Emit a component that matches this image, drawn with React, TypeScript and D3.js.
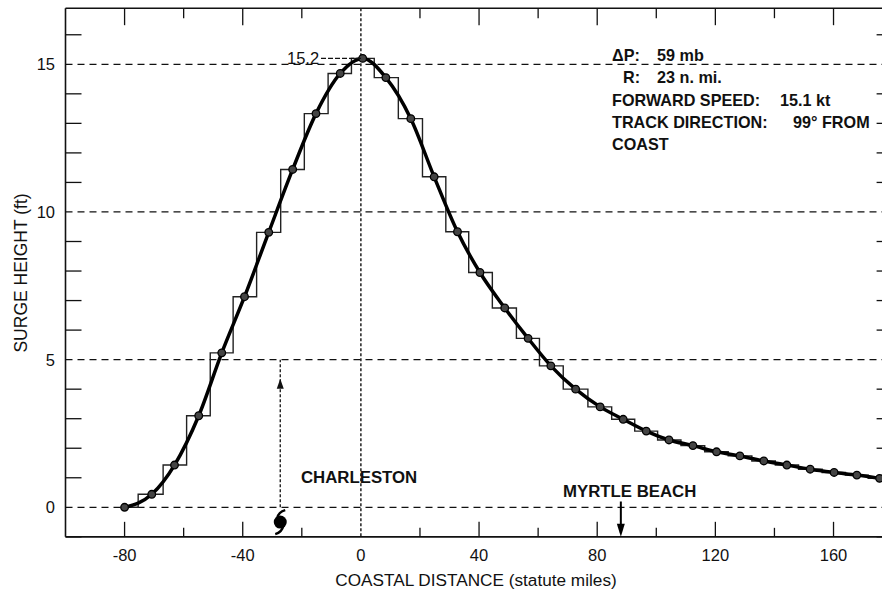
import React from "react";
import * as d3 from "d3";

// Coastal distance (statute miles) of computed grid points
const distances = [-80, -70.8, -63.1, -54.9, -47.1, -39.4, -31.2, -23.1, -15.2, -7, 0.6, 8.45, 16.9, 24.8, 32.7, 40.3, 48.7, 56.6, 64.3, 72.7, 81, 88.8, 96.6, 104.3, 112.4, 120.4, 128.3, 136.4, 144.2, 152.1, 160.2, 167.9, 175.6];
// Surge height (ft) at those points
const surgeHeights = [0, 0.44, 1.43, 3.1, 5.23, 7.13, 9.31, 11.44, 13.33, 14.69, 15.2, 14.55, 13.16, 11.19, 9.33, 7.95, 6.75, 5.72, 4.79, 4.0, 3.4, 2.98, 2.58, 2.28, 2.09, 1.88, 1.74, 1.57, 1.43, 1.29, 1.18, 1.09, 0.98];

const xTickLabels = [-80, -40, 0, 40, 80, 120, 160];
const xTicksAll = [-80, -60, -40, -20, 0, 20, 40, 60, 80, 100, 120, 140, 160, 180];
const yTickLabels = [0, 5, 10, 15];
const yTicksAll = [-1, 0, 1, 2, 3, 4, 5, 6, 7, 8, 9, 10, 11, 12, 13, 14, 15, 16];
const peakValue = 15.2;
const charlestonX = -27.3;
const myrtleBeachX = 88;
const annotations = [
  ["ΔP:", "59 mb"],
  ["R:", "23 n. mi."],
  ["FORWARD SPEED:", "15.1 kt"],
  ["TRACK DIRECTION:", "99° FROM"],
  ["COAST", ""],
];

const FONT = "'Liberation Sans', Arial, Helvetica, sans-serif";

export default function App() {
  const W = 882, H = 592;
  const x = d3.scaleLinear().domain([-100, 180]).range([65.5, 892.6]);
  const y = d3.scaleLinear().domain([0, 15]).range([507.3, 64.3]);
  const yBottom = y(-1);
  const yTop = y(16.9);
  const xLeft = x(-100);
  const xRight = x(180);

  const pts = distances.map((d, i) => [d, surgeHeights[i]] as [number, number]);
  const smooth = d3.line<[number, number]>().x(d => x(d[0])).y(d => y(d[1])).curve(d3.curveMonotoneX)(pts) || "";
  const steps = d3.line<[number, number]>().x(d => x(d[0])).y(d => y(d[1])).curve(d3.curveStep)(pts) || "";

  const cx = x(charlestonX);
  const hy = y(-0.5);
  const mx = x(myrtleBeachX);

  return (
    <svg width={W} height={H} style={{ position: "absolute", left: 0, top: 0, background: "#fff" }} fontFamily={FONT}>
      <rect x={0} y={0} width={W} height={H} fill="#fff" />
      {/* gridlines */}
      {yTickLabels.map(v => (
        <line key={"g" + v} x1={xLeft} x2={xRight} y1={y(v)} y2={y(v)} stroke="#111" strokeWidth={1.3} strokeDasharray="7,5" />
      ))}
      <line x1={x(0)} x2={x(0)} y1={yTop} y2={yBottom} stroke="#111" strokeWidth={1.4} strokeDasharray="3,2" />
      {/* frame */}
      <line x1={xLeft} x2={xLeft} y1={yTop} y2={yBottom} stroke="#111" strokeWidth={1.6} />
      <line x1={xLeft} x2={xRight} y1={yTop} y2={yTop} stroke="#111" strokeWidth={1.6} />
      <line x1={xLeft} x2={xRight} y1={yBottom} y2={yBottom} stroke="#111" strokeWidth={1.6} />
      <line x1={xRight} x2={xRight} y1={yTop} y2={yBottom} stroke="#111" strokeWidth={1.6} />
      {/* y ticks */}
      {yTicksAll.filter(v => !yTickLabels.includes(v)).map(v => (
        <g key={"yt" + v}>
          <line x1={xLeft} x2={xLeft + 16} y1={y(v)} y2={y(v)} stroke="#111" strokeWidth={1.3} />
          <line x1={xRight} x2={xRight - 16} y1={y(v)} y2={y(v)} stroke="#111" strokeWidth={1.3} />
        </g>
      ))}
      {/* x ticks */}
      {xTicksAll.filter(v => v !== 0).map(v => {
        const major = v % 40 === 0;
        return (
          <g key={"xt" + v}>
            <line x1={x(v)} x2={x(v)} y1={yBottom} y2={yBottom - (major ? 15 : 9)} stroke="#111" strokeWidth={1.3} />
            <line x1={x(v)} x2={x(v)} y1={yTop} y2={yTop + (major ? 17 : 10)} stroke="#111" strokeWidth={1.3} />
          </g>
        );
      })}
      {/* tick labels */}
      {yTickLabels.map(v => (
        <text key={"yl" + v} x={55} y={y(v) + 6} textAnchor="end" fontSize={16.5} fill="#111">{v}</text>
      ))}
      {xTickLabels.map(v => (
        <text key={"xl" + v} x={x(v)} y={561} textAnchor="middle" fontSize={16.5} fill="#111">{v}</text>
      ))}
      {/* axis titles */}
      <text x={476} y={586} textAnchor="middle" fontSize={17.2} fill="#111">COASTAL DISTANCE (statute miles)</text>
      <text transform="translate(27,273) rotate(-90)" textAnchor="middle" fontSize={17.5} fill="#111">SURGE HEIGHT (ft)</text>

      {/* step histogram */}
      <path d={steps} fill="none" stroke="#222" strokeWidth={1.4} />
      {/* smooth curve */}
      <path d={smooth} fill="none" stroke="#000" strokeWidth={3.5} strokeLinejoin="round" />
      {pts.map((p, i) => (
        <circle key={"c" + i} cx={x(p[0])} cy={y(p[1])} r={3.8} fill="#444" stroke="#000" strokeWidth={1.3} />
      ))}

      {/* peak label */}
      <line x1={x(-13.5)} x2={x(0.5)} y1={y(peakValue)} y2={y(peakValue)} stroke="#111" strokeWidth={1.2} strokeDasharray="5,2" />
      <text x={287} y={y(peakValue) + 5.5} fontSize={16.5} fill="#111">{peakValue}</text>

      {/* annotation block */}
      {annotations.map((a, i) => {
        const by = 61 + i * 22.3;
        const lx = i === 1 ? 623 : 612;
        const vx = i < 2 ? 657 : i === 2 ? 780 : 793;
        return (
          <g key={"a" + i}>
            <text x={lx} y={by} fontSize={16.2} fontWeight="bold" fill="#111">{a[0]}</text>
            {a[1] && <text x={vx} y={by} fontSize={16.2} fontWeight="bold" fill="#111">{a[1]}</text>}
          </g>
        );
      })}

      {/* Charleston */}
      <line x1={cx} x2={cx} y1={y(0)} y2={y(5)} stroke="#111" strokeWidth={1.3} strokeDasharray="3,2" />
      <path d={`M${cx},${y(4.35)} L${cx - 3.5},${y(4.35) + 10} L${cx + 3.5},${y(4.35) + 10} Z`} fill="#111" />
      <text x={301} y={483} fontSize={16.8} fontWeight="bold" fill="#111">CHARLESTON</text>
      <g>
        <circle cx={cx} cy={hy} r={6.5} fill="#000" />
        <path d={`M${cx - 3},${hy - 4} C${cx - 2},${hy - 9} ${cx + 1},${hy - 11} ${cx + 5},${hy - 12}`} fill="none" stroke="#000" strokeWidth={2.4} />
        <path d={`M${cx + 3},${hy + 4} C${cx + 2},${hy + 9} ${cx - 1},${hy + 11} ${cx - 5},${hy + 12}`} fill="none" stroke="#000" strokeWidth={2.4} />
      </g>

      {/* Myrtle Beach */}
      <line x1={mx} x2={mx} y1={501.5} y2={yBottom - 4} stroke="#000" strokeWidth={2} />
      <path d={`M${mx},${yBottom} L${mx - 4},${yBottom - 13} L${mx + 4},${yBottom - 13} Z`} fill="#000" />
      <text x={563} y={497} fontSize={16.8} fontWeight="bold" fill="#111">MYRTLE BEACH</text>
    </svg>
  );
}
